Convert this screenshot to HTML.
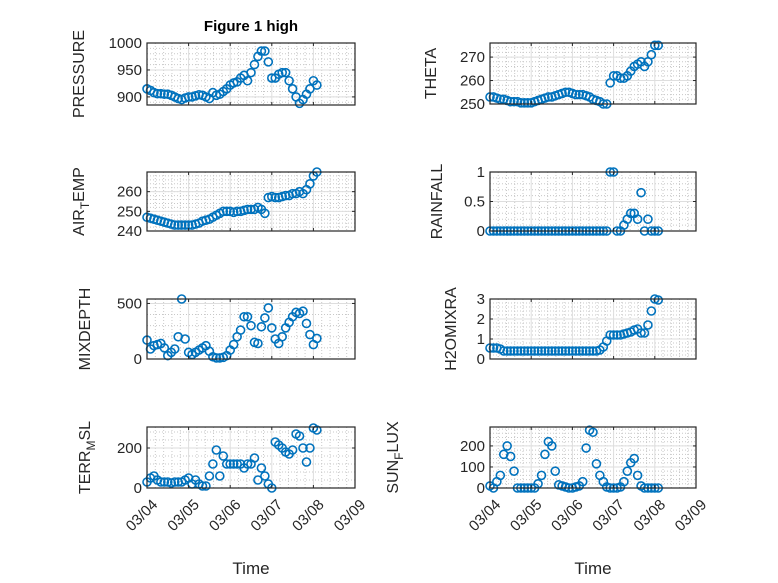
<!DOCTYPE html>
<html><head><meta charset="utf-8"><style>
body{margin:0;background:#fff}
svg{display:block;font-family:"Liberation Sans",sans-serif}
</style></head><body>
<svg id="fig" width="778" height="583" viewBox="0 0 778 583" xmlns="http://www.w3.org/2000/svg">
<rect width="778" height="583" fill="#fff"/>
<text x="251" y="31" text-anchor="middle" font-weight="bold" font-size="15" fill="#000">Figure 1 high</text>
</svg>
<script>
const xTickLabels = ["03/04","03/05","03/06","03/07","03/08","03/09"];
const pressure = [915,912,908,906,906,905,905,903,900,897,895,898,900,900,902,904,903,900,897,908,903,905,910,915,922,926,928,935,940,930,945,960,975,985,985,965,935,935,942,945,945,930,915,900,888,895,905,915,930,922];
const airTemp = [247,246.5,246,245.5,245,244.5,244,243.5,243,243,243,243,243,243,243.5,244,245,245.5,246,247,248,249,250,250,250,249.5,250,250,250.5,251,251,251,252,251,249,257,257.5,257,257,257.5,258,258,259,259,260,259,261,264,268,270];
const mixDepth = [170,90,120,130,140,100,30,60,90,200,540,180,60,40,60,80,100,120,70,20,10,10,15,30,80,130,200,260,380,380,300,150,140,290,370,460,280,180,140,200,280,330,380,420,410,430,320,220,130,185];
const terrMsl = [30,50,60,40,30,30,30,25,30,30,30,40,50,20,40,20,10,10,60,120,190,60,160,120,120,120,120,120,100,120,120,150,40,100,60,20,0,230,215,200,180,170,190,270,260,200,130,200,300,290];
const theta = [253,253,252.5,252,252,251.5,251,251,251,250.5,250.5,250.5,250.5,251,251.5,252,252.5,253,253,253.5,254,254.5,255,255,254.5,254,254,254,253.5,253,252,251.5,251,250,250,259,262,262,261,261,262,264,266,267,268,266,268,271,275,275];
const rainfall = [0,0,0,0,0,0,0,0,0,0,0,0,0,0,0,0,0,0,0,0,0,0,0,0,0,0,0,0,0,0,0,0,0,0,0,1,1,0,0,0.1,0.2,0.3,0.3,0.2,0.65,0,0.2,0,0,0];
const h2oMix = [0.55,0.55,0.55,0.5,0.4,0.4,0.4,0.4,0.4,0.4,0.4,0.4,0.4,0.4,0.4,0.4,0.4,0.4,0.4,0.4,0.4,0.4,0.4,0.4,0.4,0.4,0.4,0.4,0.4,0.4,0.4,0.4,0.45,0.6,0.9,1.2,1.2,1.2,1.2,1.25,1.3,1.35,1.45,1.5,1.3,1.3,1.7,2.4,3.0,2.95];
const sunFlux = [10,0,30,60,160,200,150,80,0,0,0,0,0,0,20,60,160,220,200,80,15,10,5,0,0,5,10,30,190,275,265,115,60,30,5,0,0,0,5,30,80,120,140,60,10,0,0,0,0,0];
const hoursStep = 2;

const NS = "http://www.w3.org/2000/svg";
const svg = document.getElementById("fig");
function mk(tag, attrs, parent){const e=document.createElementNS(NS,tag);for(const k in attrs)e.setAttribute(k,attrs[k]);(parent||svg).appendChild(e);return e;}

function panel(cfg){
  const {name,x0,y0,w,h,ymin,ymax,yticks,ylabel,data,bottom,lx} = cfg;
  const g = mk("g",{});
  
  
  const sx = d => x0 + d/5*w;
  const sy = v => y0 + h - (v-ymin)/(ymax-ymin)*h;
  for(let i=0;i<=25;i++){ if(i%5===0) continue; const X=x0+i*w/25;
    mk("line",{x1:X,x2:X,y1:y0,y2:y0+h,stroke:"#c8c8c8","stroke-width":1,"stroke-dasharray":"1,2"},g);}
  const ystep = yticks[1]-yticks[0];
  for(let v=yticks[0]-ystep; v<=ymax; v+=ystep/5){ if(v<ymin||v>ymax) continue; const Y=sy(v);
    mk("line",{x1:x0,x2:x0+w,y1:Y,y2:Y,stroke:"#c8c8c8","stroke-width":1,"stroke-dasharray":"1,2"},g);}
  for(let d=1; d<5; d++) mk("line",{x1:sx(d),x2:sx(d),y1:y0,y2:y0+h,stroke:"#dedede","stroke-width":1},g);
  yticks.forEach(v=>{ const Y=sy(v); if(Y>y0+0.5&&Y<y0+h-0.5) mk("line",{x1:x0,x2:x0+w,y1:Y,y2:Y,stroke:"#dedede","stroke-width":1},g);});
  data.forEach((v,i)=>{
    const c = mk("circle",{cx:sx(i*hoursStep/24),cy:sy(v),r:4,fill:"none",stroke:"#0072bd","stroke-width":1.6},g);
    
    
  });
  const b = mk("rect",{x:x0,y:y0,width:w,height:h,fill:"none",stroke:"#262626","stroke-width":1.2},g);
  
  
  for(let d=0; d<=5; d++){ mk("line",{x1:sx(d),x2:sx(d),y1:y0+h,y2:y0+h-3,stroke:"#262626"},g); mk("line",{x1:sx(d),x2:sx(d),y1:y0,y2:y0+3,stroke:"#262626"},g);}
  yticks.forEach(v=>{ const Y=sy(v);
    mk("line",{x1:x0,x2:x0+3,y1:Y,y2:Y,stroke:"#262626"},g);
    mk("line",{x1:x0+w,x2:x0+w-3,y1:Y,y2:Y,stroke:"#262626"},g);
    const t = mk("text",{x:x0-5,y:Y+5,"text-anchor":"end","font-size":15,fill:"#262626"},g);
    t.textContent = String(v);
    
    
  });
  const yl = mk("text",{transform:`translate(${lx},${y0+h/2}) rotate(-90)`,"text-anchor":"middle","font-size":16,fill:"#262626"},g);
  yl.innerHTML = ylabel;
  
  
  if(bottom){
    xTickLabels.forEach((s,d)=>{
      const X=sx(d), Y=y0+h+10;
      const t = mk("text",{transform:`translate(${X+4},${Y}) rotate(-45)`,"text-anchor":"end","font-size":15,fill:"#262626",dy:"0.7em"},g);
      t.textContent = s;
      
      
    });
    const xt = mk("text",{x:x0+w/2,y:574,"text-anchor":"middle","font-size":17,fill:"#262626"},g);
    xt.textContent = "Time";
    
    
  }
}
const L=147, R=490, W1=208, W2=206;
const sub = (a,b,c)=>`${a}<tspan dy="5" font-size="12">${b}</tspan><tspan dy="-5">${c}</tspan>`;
panel({name:"pressure",x0:L,y0:43,w:W1,h:62,ymin:885,ymax:1000,yticks:[900,950,1000],ylabel:"PRESSURE",data:pressure,lx:84});
panel({name:"air-temp",x0:L,y0:172,w:W1,h:59,ymin:240,ymax:270,yticks:[240,250,260],ylabel:sub("AIR","T","EMP"),data:airTemp,lx:84});
panel({name:"mixdepth",x0:L,y0:299,w:W1,h:60,ymin:0,ymax:540,yticks:[0,500],ylabel:"MIXDEPTH",data:mixDepth,lx:90});
panel({name:"terr-msl",x0:L,y0:427,w:W1,h:61,ymin:0,ymax:305,yticks:[0,200],ylabel:sub("TERR","M","SL"),data:terrMsl,lx:90,bottom:true});
panel({name:"theta",x0:R,y0:43,w:W2,h:61,ymin:250,ymax:276,yticks:[250,260,270],ylabel:"THETA",data:theta,lx:436});
panel({name:"rainfall",x0:R,y0:172,w:W2,h:59,ymin:0,ymax:1,yticks:[0,0.5,1],ylabel:"RAINFALL",data:rainfall,lx:442});
panel({name:"h2omixra",x0:R,y0:299,w:W2,h:60,ymin:0,ymax:3,yticks:[0,1,2,3],ylabel:"H2OMIXRA",data:h2oMix,lx:456});
panel({name:"sun-flux",x0:R,y0:427,w:W2,h:61,ymin:0,ymax:290,yticks:[0,100,200],ylabel:sub("SUN","F","LUX"),data:sunFlux,lx:398,bottom:true});
</script>
</body></html>
